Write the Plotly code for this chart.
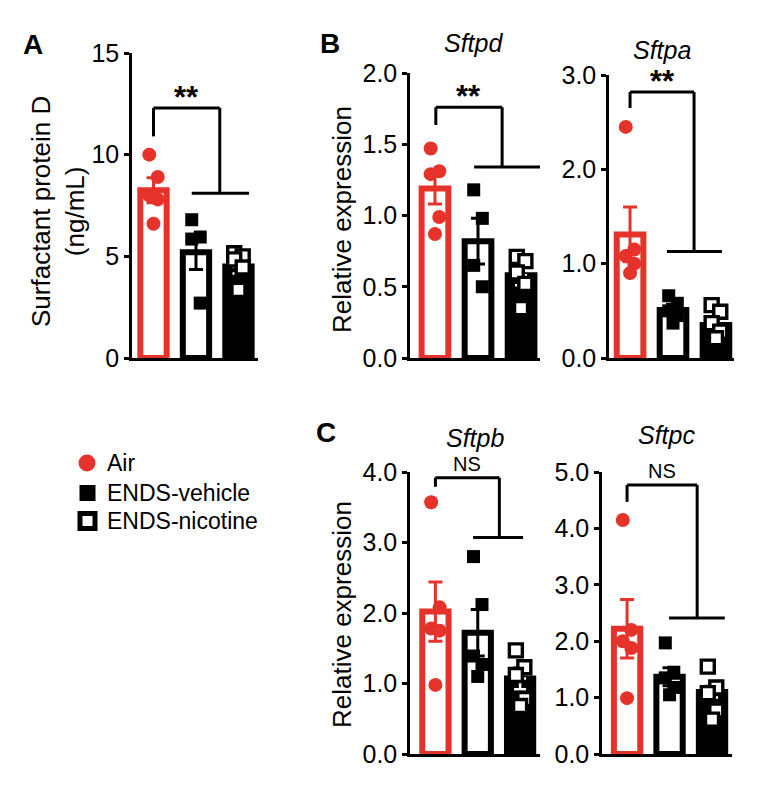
import plotly.graph_objects as go

# ---------------- data ----------------
GROUPS = ["Air", "ENDS-vehicle", "ENDS-nicotine"]

# A: Surfactant protein D (ng/mL)
spd_air = [10.0, 8.9, 8.0, 7.8, 6.6]
spd_veh = [6.8, 5.95, 5.85, 2.7]
spd_nic = [5.15, 5.0, 4.85, 4.45, 3.35]
spd_mean = [8.25, 5.2, 4.5]
spd_sem = [0.62, 0.85, 0.35]
spd_ticks = [0, 5, 10, 15]
spd_ticklabels = ["0", "5", "10", "15"]

# B: Sftpd
sftpd_air = [1.47, 1.31, 1.29, 0.99, 0.87]
sftpd_veh = [1.18, 0.98, 0.65, 0.50]
sftpd_nic = [0.71, 0.68, 0.60, 0.52, 0.35]
sftpd_mean = [1.19, 0.82, 0.58]
sftpd_sem = [0.11, 0.16, 0.07]
sftpd_ticks = [0.0, 0.5, 1.0, 1.5, 2.0]
sftpd_ticklabels = ["0.0", "0.5", "1.0", "1.5", "2.0"]

# B: Sftpa
sftpa_air = [2.45, 1.15, 1.08, 1.0, 0.9]
sftpa_veh = [0.66, 0.58, 0.50, 0.45, 0.37]
sftpa_nic = [0.56, 0.49, 0.37, 0.28, 0.21]
sftpa_mean = [1.31, 0.51, 0.35]
sftpa_sem = [0.29, 0.06, 0.07]
sftpa_ticks = [0.0, 1.0, 2.0, 3.0]
sftpa_ticklabels = ["0.0", "1.0", "2.0", "3.0"]

# C: Sftpb
sftpb_air = [3.57, 2.08, 1.78, 1.75, 0.98]
sftpb_veh = [2.80, 2.12, 1.39, 1.27, 1.10]
sftpb_nic = [1.47, 1.23, 1.12, 0.78, 0.68]
sftpb_mean = [2.02, 1.72, 1.07]
sftpb_sem = [0.42, 0.33, 0.15]
sftpb_ticks = [0.0, 1.0, 2.0, 3.0, 4.0]
sftpb_ticklabels = ["0.0", "1.0", "2.0", "3.0", "4.0"]

# C: Sftpc
sftpc_air = [4.15, 2.2, 2.0, 1.88, 0.99]
sftpc_veh = [1.97, 1.45, 1.35, 1.18, 1.05]
sftpc_nic = [1.55, 1.18, 1.08, 0.77, 0.61]
sftpc_mean = [2.22, 1.37, 1.10]
sftpc_sem = [0.52, 0.16, 0.10]
sftpc_ticks = [0.0, 1.0, 2.0, 3.0, 4.0, 5.0]
sftpc_ticklabels = ["0.0", "1.0", "2.0", "3.0", "4.0", "5.0"]

# significance labels and bracket heights (left foot, top, right foot)
sig_labels = ["**", "**", "**", "NS", "NS"]
spd_bracket = [10.9, 12.3, 8.1]
sftpd_bracket = [1.635, 1.76, 1.34]
sftpa_bracket = [2.65, 2.82, 1.13]
sftpb_bracket = [3.79, 3.92, 3.07]
sftpc_bracket = [4.47, 4.77, 2.41]

# ---------------- styling / layout ----------------
W, H = 764, 788
FONT = "Liberation Sans, Arial, Helvetica, sans-serif"
RED = "#E5322B"
BLACK = "#000000"
JIT = [-0.1, 0.1, -0.1, 0.1, 0.0]
BAR_W = 0.62
BAR_LINE = 6
TICK_FONT = 25


def fx(p):
    return p / W


def fy(p):
    return 1 - p / H


panels = [
    dict(xdom=(132, 258), ydom=(53, 358), xr=(-0.506, 2.46), yr=(0, 15),
         ticks=spd_ticks, labels=spd_ticklabels,
         pts=(spd_air, spd_veh, spd_nic), mean=spd_mean, sem=spd_sem,
         br=spd_bracket, brx=(0.0, 1.56, 0.9, 2.25)),
    dict(xdom=(410, 540), ydom=(73, 358), xr=(-0.58, 2.44), yr=(0, 2),
         ticks=sftpd_ticks, labels=sftpd_ticklabels,
         pts=(sftpd_air, sftpd_veh, sftpd_nic), mean=sftpd_mean, sem=sftpd_sem,
         br=sftpd_bracket, brx=(0.02, 1.56, 0.91, 2.44)),
    dict(xdom=(609, 734), ydom=(75, 358), xr=(-0.49, 2.42), yr=(0, 3),
         ticks=sftpa_ticks, labels=sftpa_ticklabels,
         pts=(sftpa_air, sftpa_veh, sftpa_nic), mean=sftpa_mean, sem=sftpa_sem,
         br=sftpa_bracket, brx=(0.0, 1.49, 0.86, 2.14)),
    dict(xdom=(410, 540), ydom=(472, 754), xr=(-0.6, 2.47), yr=(0, 4),
         ticks=sftpb_ticks, labels=sftpb_ticklabels,
         pts=(sftpb_air, sftpb_veh, sftpb_nic), mean=sftpb_mean, sem=sftpb_sem,
         br=sftpb_bracket, brx=(0.0, 1.51, 0.89, 2.07)),
    dict(xdom=(602, 732), ydom=(472, 754), xr=(-0.59, 2.47), yr=(0, 5),
         ticks=sftpc_ticks, labels=sftpc_ticklabels,
         pts=(sftpc_air, sftpc_veh, sftpc_nic), mean=sftpc_mean, sem=sftpc_sem,
         br=sftpc_bracket, brx=(0.0, 1.65, 0.99, 2.3)),
]

bar_fill = ["white", "white", BLACK]
bar_edge = [RED, BLACK, BLACK]
marker_styles = [
    dict(symbol="circle", size=14, color=RED, line=dict(width=0)),
    dict(symbol="square", size=13, color=BLACK, line=dict(width=0)),
    dict(symbol="square", size=13, color="white", line=dict(color=BLACK, width=3.4)),
]

fig = go.Figure()
layout = dict(
    width=W, height=H, margin=dict(l=0, r=0, t=0, b=0, pad=0, autoexpand=False),
    paper_bgcolor="white", plot_bgcolor="white",
    barmode="overlay", font=dict(family=FONT, color=BLACK),
    showlegend=False,
)
shapes = []
annotations = []

for i, p in enumerate(panels, start=1):
    xa = "x" if i == 1 else f"x{i}"
    ya = "y" if i == 1 else f"y{i}"
    layout["xaxis" if i == 1 else f"xaxis{i}"] = dict(
        domain=[fx(p["xdom"][0]), fx(p["xdom"][1])], range=list(p["xr"]),
        anchor=ya, showline=True, linecolor=BLACK, linewidth=2.5, automargin=False,
        showticklabels=False, ticks="", showgrid=False, zeroline=False, fixedrange=True)
    layout["yaxis" if i == 1 else f"yaxis{i}"] = dict(
        domain=[fy(p["ydom"][1]), fy(p["ydom"][0])], range=list(p["yr"]),
        anchor=xa, showline=True, linecolor=BLACK, linewidth=2.5, automargin=False,
        ticks="outside", ticklen=5, tickwidth=2.5, tickcolor=BLACK,
        tickvals=p["ticks"], ticktext=p["labels"],
        tickfont=dict(size=TICK_FONT, family=FONT, color=BLACK),
        showgrid=False, zeroline=False, fixedrange=True)

    # bars with SEM
    for g in range(3):
        if g < 2:
            err = dict(type="data", array=[p["sem"][g]], visible=True,
                       color=bar_edge[g], thickness=3, width=7)
        else:
            err = dict(type="data", symmetric=False, array=[p["sem"][g]], arrayminus=[0],
                       visible=True, color=BLACK, thickness=3, width=7)
        fig.add_trace(go.Bar(
            x=[g], y=[p["mean"][g]], width=BAR_W, xaxis=xa, yaxis=ya, name=GROUPS[g],
            marker=dict(color=bar_fill[g], line=dict(color=bar_edge[g], width=BAR_LINE)),
            error_y=err, showlegend=False, hoverinfo="skip"))
    # white lower whisker inside black bar
    fig.add_trace(go.Scatter(
        x=[2], y=[p["mean"][2]], mode="markers", marker=dict(size=1, opacity=0),
        error_y=dict(type="data", symmetric=False, array=[0], arrayminus=[p["sem"][2]],
                     color="white", thickness=2.5, width=6),
        xaxis=xa, yaxis=ya, showlegend=False, hoverinfo="skip"))

    # individual points
    for g in range(3):
        vals = p["pts"][g]
        fig.add_trace(go.Scatter(
            x=[g + JIT[k] for k in range(len(vals))], y=vals, mode="markers", name=GROUPS[g],
            marker=marker_styles[g], xaxis=xa, yaxis=ya, cliponaxis=False,
            showlegend=False, hoverinfo="skip"))

    # significance bracket
    xl, xr_, hx0, hx1 = p["brx"]
    yl, yt, yr_ = p["br"]
    line = dict(color=BLACK, width=3)
    shapes += [
        dict(type="line", xref=xa, yref=ya, x0=xl, x1=xl, y0=yl, y1=yt, line=line),
        dict(type="line", xref=xa, yref=ya, x0=xl, x1=xr_, y0=yt, y1=yt, line=line),
        dict(type="line", xref=xa, yref=ya, x0=xr_, x1=xr_, y0=yt, y1=yr_, line=line),
        dict(type="line", xref=xa, yref=ya, x0=hx0, x1=hx1, y0=yr_, y1=yr_, line=line),
    ]
    lab = sig_labels[i - 1]
    if lab == "**":
        annotations.append(dict(xref=xa, yref=ya, x=(xl + xr_) / 2, y=yt, text="<b>**</b>",
                                 showarrow=False, yanchor="bottom", yshift=-9,
                                 font=dict(size=31, family=FONT, color=BLACK)))
    else:
        annotations.append(dict(xref=xa, yref=ya, x=(xl + xr_) / 2, y=yt, text=lab,
                                 showarrow=False, yanchor="bottom", yshift=1,
                                 font=dict(size=20, family=FONT, color=BLACK)))

# ---- key (legend) drawn as paper shapes + text ----
KEY_X = 87          # symbol centre, px
KEY_TEXT_X = 105    # text start, px
KEY_Y = [463, 493, 521]


def box(cx, cy, half):
    return dict(x0=fx(cx - half), x1=fx(cx + half), y0=fy(cy + half), y1=fy(cy - half))


shapes.append(dict(type="circle", xref="paper", yref="paper", fillcolor=RED,
                   line=dict(width=0), **box(KEY_X, KEY_Y[0], 8.5)))
shapes.append(dict(type="rect", xref="paper", yref="paper", fillcolor=BLACK,
                   line=dict(width=0), **box(KEY_X + 0.5, KEY_Y[1], 8)))
shapes.append(dict(type="rect", xref="paper", yref="paper", fillcolor="white",
                   line=dict(width=5, color=BLACK), **box(KEY_X + 0.5, KEY_Y[2], 7.5)))
for g in range(3):
    annotations.append(dict(xref="paper", yref="paper", x=fx(KEY_TEXT_X), y=fy(KEY_Y[g]),
                             text=GROUPS[g], showarrow=False, xanchor="left", yanchor="middle",
                             font=dict(size=23, family=FONT, color=BLACK)))

# panel letters
for txt, x, y in [("A", 33, 44), ("B", 330, 43), ("C", 326, 432)]:
    annotations.append(dict(xref="paper", yref="paper", x=fx(x), y=fy(y), text=f"<b>{txt}</b>",
                             showarrow=False, xanchor="center", yanchor="middle",
                             font=dict(size=28, family=FONT, color=BLACK)))
# gene titles
for txt, x, y in [("Sftpd", 473, 43), ("Sftpa", 662, 50), ("Sftpb", 475, 438), ("Sftpc", 666, 435)]:
    annotations.append(dict(xref="paper", yref="paper", x=fx(x), y=fy(y), text=f"<i>{txt}</i>",
                             showarrow=False, xanchor="center", yanchor="middle",
                             font=dict(size=25, family=FONT, color=BLACK)))
# y-axis titles
for txt, x, y in [("Surfactant protein D<br>(ng/mL)", 58, 212),
                  ("Relative expression", 342, 220),
                  ("Relative expression", 342, 615)]:
    annotations.append(dict(xref="paper", yref="paper", x=fx(x), y=fy(y), text=txt,
                             textangle=-90, showarrow=False, xanchor="center", yanchor="middle",
                             font=dict(size=26, family=FONT, color=BLACK)))

layout["shapes"] = shapes
layout["annotations"] = annotations
fig.update_layout(**layout)
fig.write_html("out.html", post_script="document.body.style.margin='0px';",
               config={"displayModeBar": False})
